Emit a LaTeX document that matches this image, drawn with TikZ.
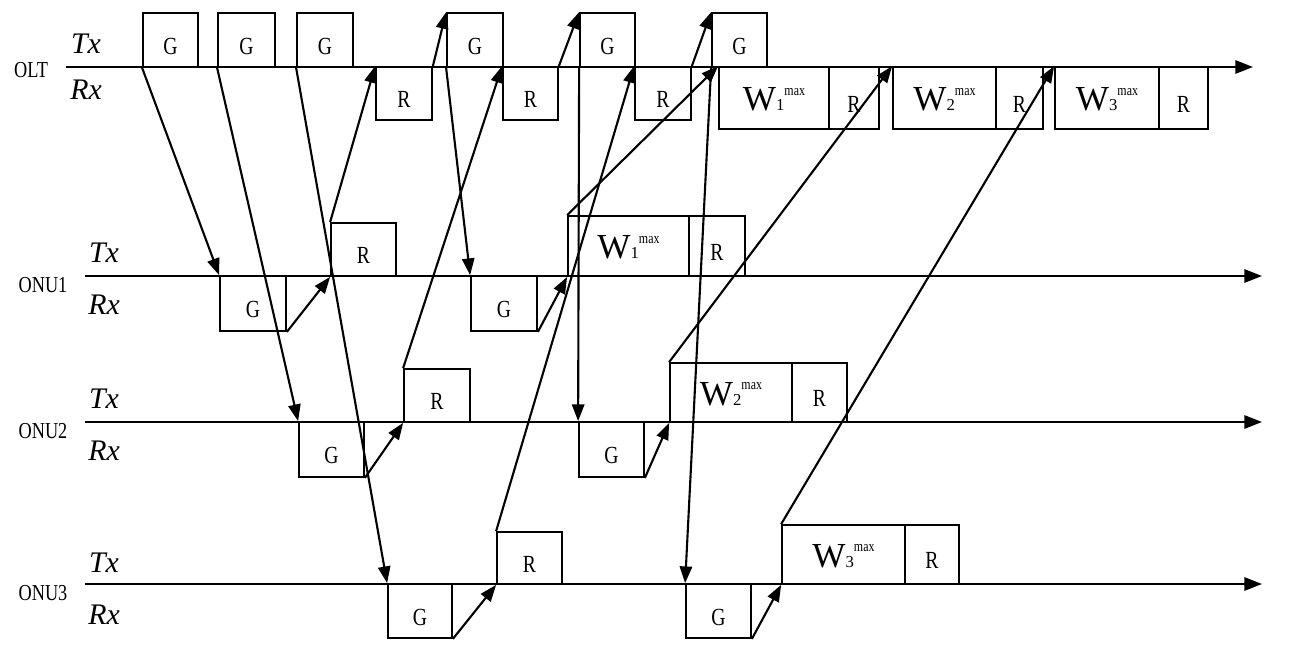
\documentclass[tikz,border=0pt]{standalone}
\usepackage{fontspec}
\setmainfont{Liberation Serif}
\newfontfamily\cnfont[FakeStretch=0.8]{Liberation Serif}
\usetikzlibrary{arrows.meta,fit}

\newcommand{\wmax}[1]{W{\fontsize{9.5}{9.5}\selectfont #1}\raisebox{9pt}{\cnfont\fontsize{8.5}{8.5}\selectfont max}}

\begin{document}
\begin{tikzpicture}[
  x=0.02cm, y=-0.02cm,
  slot/.style={draw, line width=1pt, inner sep=0pt,
               label={[font=\cnfont\fontsize{14}{14}\selectfont, yshift=-3.5pt]center:#1}},
  wslot/.style={draw, line width=1pt, inner sep=0pt,
               label={[font=\fontsize{20}{20}\selectfont, yshift=-1pt]center:\wmax{#1}}},
  lane/.style={anchor=base, font=\cnfont\fontsize{13}{13}\selectfont},
  port/.style={anchor=base, font=\itshape\fontsize{17}{17}\selectfont},
  axis/.style={line width=1.2pt, -{Triangle[length=10pt,width=7.5pt]}},
  msg/.style={line width=1.2pt, -{Triangle[length=9.5pt,width=7pt]}}]
\useasboundingbox (0,0) rectangle (1307,655);

% time axes
\coordinate (olt-s) at (66,67);   \coordinate (olt-e) at (1253,67);
\coordinate (onu1-s) at (85,276); \coordinate (onu1-e) at (1262,276);
\coordinate (onu2-s) at (85,422); \coordinate (onu2-e) at (1262,422);
\coordinate (onu3-s) at (85,584); \coordinate (onu3-e) at (1262,584);
\draw[axis] (olt-s) -- (olt-e);
\draw[axis] (onu1-s) -- (onu1-e);
\draw[axis] (onu2-s) -- (onu2-e);
\draw[axis] (onu3-s) -- (onu3-e);

% labels
\node[lane] (olt) at (31,78) {OLT};
\node[port] (olt-tx) at (86,54) {Tx};
\node[port] (olt-rx) at (86,100) {Rx};
\node[lane] (onu1) at (43,292) {ONU1};
\node[port] (onu1-tx) at (104,262) {Tx};
\node[port] (onu1-rx) at (104,314) {Rx};
\node[lane] (onu2) at (43,438) {ONU2};
\node[port] (onu2-tx) at (104,408) {Tx};
\node[port] (onu2-rx) at (104,460) {Rx};
\node[lane] (onu3) at (43,600) {ONU3};
\node[port] (onu3-tx) at (104,572) {Tx};
\node[port] (onu3-rx) at (104,624) {Rx};

% OLT slots
\node[slot=G, fit={(143,13) (198,67)}] (og1) {};
\node[slot=G, fit={(218,13) (275,67)}] (og2) {};
\node[slot=G, fit={(297,13) (353,67)}] (og3) {};
\node[slot=G, fit={(447,13) (503,67)}] (og4) {};
\node[slot=G, fit={(580,13) (635,67)}] (og5) {};
\node[slot=G, fit={(712,13) (767,67)}] (og6) {};
\node[slot=R, fit={(376,67) (432,120)}] (or1) {};
\node[slot=R, fit={(503,67) (558,120)}] (or2) {};
\node[slot=R, fit={(635,67) (691,120)}] (or3) {};
\node[wslot=1, fit={(719,67) (829,129)}] (ow1) {};
\node[slot=R, fit={(829,67) (879,129)}] (owr1) {};
\node[wslot=2, fit={(893,67) (996,129)}] (ow2) {};
\node[slot=R, fit={(996,67) (1043,129)}] (owr2) {};
\node[wslot=3, fit={(1055,67) (1159,129)}] (ow3) {};
\node[slot=R, fit={(1159,67) (1208,129)}] (owr3) {};

% ONU slots
\node[slot=G, fit={(220,276) (286,331)}] (g1a) {};
\node[slot=R, fit={(331,223) (396,276)}] (r1a) {};
\node[slot=G, fit={(471,276) (537,331)}] (g1b) {};
\node[wslot=1, fit={(568,216) (689,276)}] (w1) {};
\node[slot=R, fit={(689,216) (745,276)}] (r1w) {};
\node[slot=G, fit={(299,422) (364,477)}] (g2a) {};
\node[slot=R, fit={(404,369) (470,422)}] (r2a) {};
\node[slot=G, fit={(579,422) (644,477)}] (g2b) {};
\node[wslot=2, fit={(670,363) (792,422)}] (w2) {};
\node[slot=R, fit={(792,363) (847,422)}] (r2w) {};
\node[slot=G, fit={(388,584) (452,638)}] (g3a) {};
\node[slot=R, fit={(497,532) (562,584)}] (r3a) {};
\node[slot=G, fit={(686,584) (751,638)}] (g3b) {};
\node[wslot=3, fit={(782,525) (905,584)}] (w3) {};
\node[slot=R, fit={(905,525) (959,584)}] (r3w) {};

% grants down
\draw[msg] (og1.south west) -- (g1a.north west);
\draw[msg] (og2.south west) -- (g2a.north west);
\draw[msg] (og3.south west) -- (g3a.north west);
\draw[msg] (og4.south west) -- (g1b.north west);
\draw[msg] (og5.south west) -- (g2b.north west);
\draw[msg] (og6.south west) -- (g3b.north west);
% local turn-around
\draw[msg] (g1a.south east) -- (r1a.south west);
\draw[msg] (g2a.south east) -- (r2a.south west);
\draw[msg] (g3a.south east) -- (r3a.south west);
\draw[msg] (g1b.south east) -- (w1.south west);
\draw[msg] (g2b.south east) -- (w2.south west);
\draw[msg] (g3b.south east) -- (w3.south west);
% reports and data up
\draw[msg] (r1a.north west) -- (or1.north west);
\draw[msg] (r2a.north west) -- (or2.north west);
\draw[msg] (r3a.north west) -- (or3.north west);
\draw[msg] (w1.north west) -- (ow1.north west);
\draw[msg] (w2.north west) -- (ow2.north west);
\draw[msg] (w3.north west) -- (ow3.north west);
% OLT report to grant
\draw[msg] (or1.north east) -- (og4.north west);
\draw[msg] (or2.north east) -- (og5.north west);
\draw[msg] (or3.north east) -- (og6.north west);
\end{tikzpicture}
\end{document}
